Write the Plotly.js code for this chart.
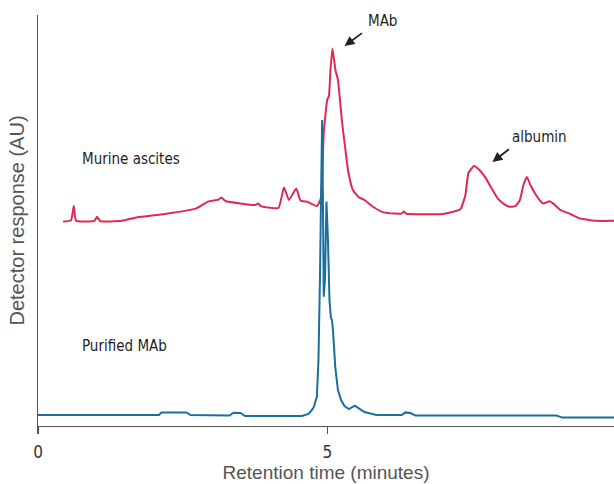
<!DOCTYPE html>
<html>
<head>
<meta charset="utf-8">
<script src="https://cdn.plot.ly/plotly-3.0.1.min.js"></script>
<style>
  html, body { margin: 0; padding: 0; background: #fff; }
  #chart { width: 614px; height: 484px; }
</style>
</head>
<body>
<div id="chart"></div>
<script>
// Size-exclusion chromatograms: murine ascites fluid vs. purified monoclonal antibody.
// Retention time in minutes; detector response in arbitrary units (ascites trace sits on its own offset baseline).

const ascitesTime = [
  0.433, 0.570, 0.618, 0.658, 0.976, 1.019, 1.076, 1.449, 1.718, 2.192,
  2.734, 2.936, 3.117, 3.169, 3.238, 3.748, 3.801, 3.860, 4.154, 4.249,
  4.335, 4.461, 4.534, 4.661, 4.819, 4.888, 4.936, 4.995, 5.026, 5.052,
  5.086, 5.138, 5.181, 5.254, 5.311, 5.363, 5.439, 5.535, 5.639, 5.794,
  5.967, 6.174, 6.278, 6.318, 6.364, 6.993, 7.297, 7.383, 7.435, 7.530,
  7.625, 7.737, 7.832, 7.941, 8.040, 8.143, 8.247, 8.325, 8.385, 8.447,
  8.506, 8.584, 8.679, 8.731, 8.834, 8.903, 9.024, 9.197, 9.361, 9.629,
  9.957
];
const ascitesResponse = [
  51.1, 51.4, 55.0, 51.3, 51.3, 52.3, 51.2, 51.3, 52.2, 53.0,
  54.4, 56.1, 56.6, 57.1, 56.25, 55.25, 55.6, 54.9, 54.5, 59.6,
  56.5, 59.4, 56.4, 56.0, 55.0, 57.0, 73.3, 81.5, 82.5, 89.0,
  94.4, 89.0, 86.5, 75.75, 69.0, 63.25, 59.0, 57.25, 56.5, 54.75,
  53.4, 53.1, 53.1, 53.6, 53.05, 53.0, 54.2, 57.75, 63.25, 65.0,
  64.0, 61.9, 59.5, 56.9, 55.6, 54.8, 54.95, 56.5, 60.25, 62.25,
  60.25, 58.2, 56.25, 55.6, 56.2, 55.6, 54.0, 53.0, 51.9, 51.3,
  51.3
];

const purifiedTime = [
  0.000, 2.091, 2.133, 2.565, 2.634, 3.307, 3.377, 3.497, 3.579, 4.560,
  4.672, 4.758, 4.817, 4.845, 4.870, 4.891, 4.908, 4.922, 4.936, 4.957,
  4.983, 5.009, 5.035, 5.060, 5.078, 5.095, 5.135, 5.181, 5.235, 5.294,
  5.371, 5.471, 5.553, 5.639, 5.845, 6.283, 6.347, 6.434, 6.520, 8.955,
  9.057, 9.957
];
const purifiedResponse = [
  2.75, 2.75, 3.4, 3.4, 2.75, 2.6, 3.3, 3.25, 2.5, 2.5,
  3.0, 4.5, 7.3, 16.5, 36.5, 61.5, 76.5, 56.5, 32.3, 36.5,
  56.1, 46.5, 31.5, 27.0, 26.5, 24.0, 14.8, 9.0, 6.5, 5.0,
  4.25, 5.1, 4.25, 3.5, 2.75, 2.75, 3.4, 3.25, 2.6, 2.6,
  2.1, 2.1
];

const xTickValues = [0, 5];
const xTickLabels = ['0', '5'];

// Peak labels: [time, response] of the arrow tip on each labelled peak
const mabPeakTip = [5.294, 95.0];
const albuminPeakTip = [7.850, 66.0];

const condensed = '"DejaVu Sans Condensed", "Liberation Sans Narrow", sans-serif';
const regular = '"Liberation Sans", Arial, sans-serif';

const traces = [
  {
    x: ascitesTime, y: ascitesResponse, type: 'scatter', mode: 'lines',
    name: 'Murine ascites',
    line: { color: '#e0294e', width: 2, shape: 'spline', smoothing: 0.4 },
    hoverinfo: 'skip'
  },
  {
    x: purifiedTime, y: purifiedResponse, type: 'scatter', mode: 'lines',
    name: 'Purified MAb',
    line: { color: '#1b6e9e', width: 2 },
    hoverinfo: 'skip'
  }
];

const labelFont = { family: condensed, size: 15, color: '#1e1e1e' };

const layout = {
  width: 614, height: 484,
  margin: { l: 38, r: 0, t: 15, b: 58 },
  paper_bgcolor: '#ffffff', plot_bgcolor: '#ffffff',
  showlegend: false,
  xaxis: {
    range: [0, 9.95],
    showgrid: false, zeroline: false,
    showline: true, linecolor: '#555', linewidth: 1.2,
    tickmode: 'array', tickvals: xTickValues, ticktext: xTickLabels,
    ticks: 'outside', ticklen: 7, tickwidth: 1.2, tickcolor: '#555',
    ticklabelstandoff: 3,
    tickfont: { family: condensed, size: 17, color: '#333' },
    title: { text: 'Retention time (minutes)', font: { family: regular, size: 19, color: '#555' }, standoff: 5 }
  },
  yaxis: {
    range: [0, 102.75],
    showgrid: false, zeroline: false,
    showline: true, linecolor: '#555', linewidth: 1.2,
    showticklabels: false, ticks: '',
    title: { text: 'Detector response (AU)', font: { family: regular, size: 20, color: '#555' }, standoff: 6 }
  },
  annotations: [
    { x: 0.734, y: 66.75, xref: 'x', yref: 'y', text: 'Murine ascites', showarrow: false,
      xanchor: 'left', yanchor: 'middle', font: labelFont },
    { x: 0.734, y: 20.1, xref: 'x', yref: 'y', text: 'Purified MAb', showarrow: false,
      xanchor: 'left', yanchor: 'middle', font: labelFont },
    { x: 5.95, y: 101.25, xref: 'x', yref: 'y', text: 'MAb', showarrow: false,
      xanchor: 'center', yanchor: 'middle', font: labelFont },
    { x: 8.67, y: 72.25, xref: 'x', yref: 'y', text: 'albumin', showarrow: false,
      xanchor: 'center', yanchor: 'middle', font: labelFont },
    { x: mabPeakTip[0], y: mabPeakTip[1], xref: 'x', yref: 'y', text: '', showarrow: true,
      ax: 19, ay: -14, arrowhead: 2, arrowsize: 1.1, arrowwidth: 1.8, arrowcolor: '#222' },
    { x: albuminPeakTip[0], y: albuminPeakTip[1], xref: 'x', yref: 'y', text: '', showarrow: true,
      ax: 18, ay: -14, arrowhead: 2, arrowsize: 1.1, arrowwidth: 1.8, arrowcolor: '#222' }
  ]
};

Plotly.newPlot('chart', traces, layout, { staticPlot: true, displayModeBar: false });
</script>
</body>
</html>
